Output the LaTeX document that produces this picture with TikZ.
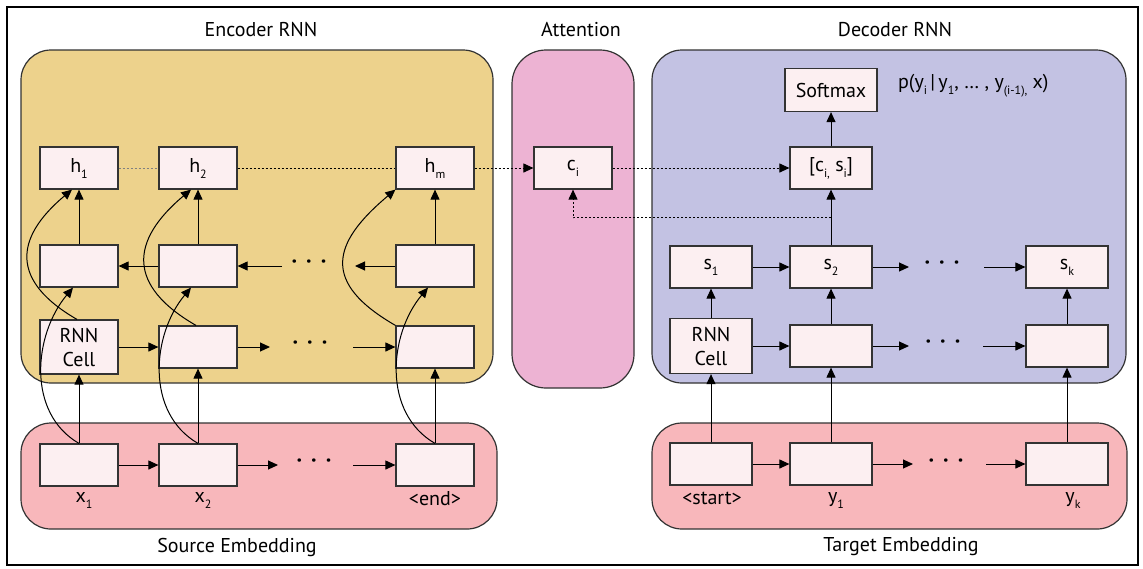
\documentclass[tikz,border=0pt]{standalone}
\usepackage{fontspec}
\setmainfont{PT Sans}
\usepackage{xcolor}
\usepackage{tikz}
\usetikzlibrary{calc, arrows.meta}
\definecolor{encFill}{HTML}{EDD28C}
\definecolor{attFill}{HTML}{EDB3D3}
\definecolor{decFill}{HTML}{C3C2E3}
\definecolor{embFill}{HTML}{F8B7BB}
\definecolor{cellFill}{HTML}{FCEFF1}
\definecolor{lineGray}{HTML}{333333}
\newcommand{\subtxt}[1]{\raisebox{-3pt}{\fontsize{6}{7}\selectfont #1}}

\begin{document}
\begin{tikzpicture}[x=0.5pt, y=-0.5pt,
    font=\fontsize{10}{12}\selectfont,
    cell/.style={draw=lineGray, fill=cellFill, line width=0.6pt, minimum width=39pt,
        minimum height=21pt, inner sep=0pt, align=center},
    dcell/.style={cell, minimum width=41pt},
    region/.style={draw=lineGray, line width=0.6pt, rounded corners=15pt},
    flow/.style={-{Triangle[length=5pt, width=4.5pt]}, line width=0.5pt},
    link/.style={flow, dash pattern=on 1pt off 1pt},
    dots/.style={font=\bfseries\fontsize{11}{12}\selectfont}]
    \useasboundingbox (0,0) rectangle (1143,568);
    \draw[line width=1.2pt] (7,7) rectangle (1138,565);

    % regions
    \draw[region, fill=encFill] (21,50) rectangle (493,383);
    \draw[region, fill=attFill, rounded corners=17pt] (512,50) rectangle (634,388);
    \draw[region, fill=decFill] (652,50) rectangle (1126,383);
    \draw[region, fill=embFill] (21,423) rectangle (497,529);
    \draw[region, fill=embFill] (652,423) rectangle (1127,529);

    \node (tEnc) at (261,30) {Encoder RNN};
    \node (tAtt) at (581,30) {Attention};
    \node (tDec) at (895,30) {Decoder RNN};
    \node (tSrc) at (237,547) {Source Embedding};
    \node (tTgt) at (901,547) {Target Embedding};

    % encoder
    \node[cell] (h1) at (79,168) {h\subtxt{1}};
    \node[cell] (h2) at (198,168) {h\subtxt{2}};
    \node[cell] (hm) at (435,168) {h\subtxt{m}};
    \node[cell] (b1) at (79,266) {};
    \node[cell] (b2) at (198,266) {};
    \node[cell] (bm) at (435,266) {};
    \node[cell, minimum height=27pt] (f1) at (79,347) {RNN\\Cell};
    \node[cell] (f2) at (198,347) {};
    \node[cell] (fm) at (435,347) {};
    \node[cell] (x1) at (79,465) {};
    \node[cell] (x2) at (198,465) {};
    \node[cell] (xe) at (435,465) {};
    \node (lx1) at (84,500) {x\subtxt{1}};
    \node (lx2) at (203,500) {x\subtxt{2}};
    \node (lxe) at (435,499) {<end>};

    \coordinate (bIn) at (282,266);
    \coordinate (bOut) at (355,266);
    \coordinate (fOut) at (270,347);
    \coordinate (fIn) at (353,347);
    \coordinate (xOut) at (278,465);
    \coordinate (xIn) at (353,465);
    \node[dots] (bDots) at (309,264) {·\hspace{4.5pt}·\hspace{4.5pt}·};
    \node[dots] (fDots) at (310,345) {·\hspace{4.5pt}·\hspace{4.5pt}·};
    \node[dots] (xDots) at (314,463) {·\hspace{4.5pt}·\hspace{4.5pt}·};

    \draw[flow] (b2) -- (b1);
    \draw[flow] (bIn) -- (b2);
    \draw[flow] (bm) -- (bOut);
    \draw[flow] (f1) -- (f2);
    \draw[flow] (f2) -- (fOut);
    \draw[flow] (fIn) -- (fm);
    \draw[flow] (x1) -- (x2);
    \draw[flow] (x2) -- (xOut);
    \draw[flow] (xIn) -- (xe);
    \draw[flow] (x1) -- (f1);
    \draw[flow] (x2) -- (f2);
    \draw[flow] (xe) -- (fm);
    \draw[flow] (b1) -- (h1);
    \draw[flow] (b2) -- (h2);
    \draw[flow] (bm) -- (hm);
    \draw[flow] (x1.north) to[out=150, in=-130] ($(b1.south)+(-6,0)$);
    \draw[flow] (x2.north) to[out=150, in=-130] ($(b2.south)+(-7,0)$);
    \draw[flow] (xe.north) to[out=150, in=-130] ($(bm.south)+(-7,0)$);
    \draw[flow] ($(f1.north)+(-2,0)$) to[out=150, in=-140, looseness=1.5] ($(h1.south)+(-7,0)$);
    \draw[flow] ($(f2.north)+(-2,0)$) to[out=150, in=-140, looseness=1.5] ($(h2.south)+(-7,0)$);
    \draw[flow] (fm.north west) to[out=150, in=-140, looseness=1.6] (hm.south west);

    \draw[gray, line width=0.5pt, dash pattern=on 1pt off 1pt] (h1) -- (h2);
    \draw[line width=0.5pt, dash pattern=on 1pt off 1pt] (h2) -- (hm);

    % attention
    \node[cell] (ci) at (573,168) {c\subtxt{i}};

    % decoder
    \node[cell, minimum width=46pt, minimum height=21.5pt] (sm) at (831,90) {Softmax};
    \node[anchor=west] (pTxt) at (891,86) {p(y\subtxt{i}\,|\,y\subtxt{1}, \ldots{} , y\subtxt{(i-1),} x)};
    \node[dcell] (cs) at (831,168) {[c\subtxt{i,} s\subtxt{i}]};
    \node[dcell] (s1) at (711,267) {s\subtxt{1}};
    \node[dcell] (s2) at (831,267) {s\subtxt{2}};
    \node[dcell] (sk) at (1067,267) {s\subtxt{k}};
    \node[dcell, minimum height=27.5pt] (g1) at (711,346) {RNN\\Cell};
    \node[dcell] (g2) at (831,346) {};
    \node[dcell] (gk) at (1067,346) {};
    \node[dcell] (ys) at (711,464) {};
    \node[dcell] (y1) at (831,464) {};
    \node[dcell] (yk) at (1067,464) {};
    \node (lys) at (712,498) {<start>};
    \node (ly1) at (836,500) {y\subtxt{1}};
    \node (lyk) at (1073,500) {y\subtxt{k}};

    \coordinate (sOut) at (909,267);
    \coordinate (sIn) at (984,267);
    \coordinate (gOut) at (909,346);
    \coordinate (gIn) at (983,346);
    \coordinate (yOut) at (913,464);
    \coordinate (yIn) at (986,464);
    \node[dots] (sDots) at (942,265) {·\hspace{4.5pt}·\hspace{4.5pt}·};
    \node[dots] (gDots) at (943,344) {·\hspace{4.5pt}·\hspace{4.5pt}·};
    \node[dots] (yDots) at (946,463) {·\hspace{4.5pt}·\hspace{4.5pt}·};

    \draw[flow] (s1) -- (s2);
    \draw[flow] (s2) -- (sOut);
    \draw[flow] (sIn) -- (sk);
    \draw[flow] (g1) -- (g2);
    \draw[flow] (g2) -- (gOut);
    \draw[flow] (gIn) -- (gk);
    \draw[flow] (ys) -- (y1);
    \draw[flow] (y1) -- (yOut);
    \draw[flow] (yIn) -- (yk);
    \draw[flow] (ys) -- (g1);
    \draw[flow] (y1) -- (g2);
    \draw[flow] (yk) -- (gk);
    \draw[flow] (g1) -- (s1);
    \draw[flow] (g2) -- (s2);
    \draw[flow] (gk) -- (sk);
    \draw[flow] (s2) -- (cs);
    \draw[flow] (cs) -- (sm);

    % attention links
    \coordinate (tap) at ($(cs.south)!0.5!(s2.north)$);
    \draw[link] (hm) -- (ci);
    \draw[link] (ci) -- (cs);
    \draw[link] (tap) -| (ci.south);
\end{tikzpicture}
\end{document}
